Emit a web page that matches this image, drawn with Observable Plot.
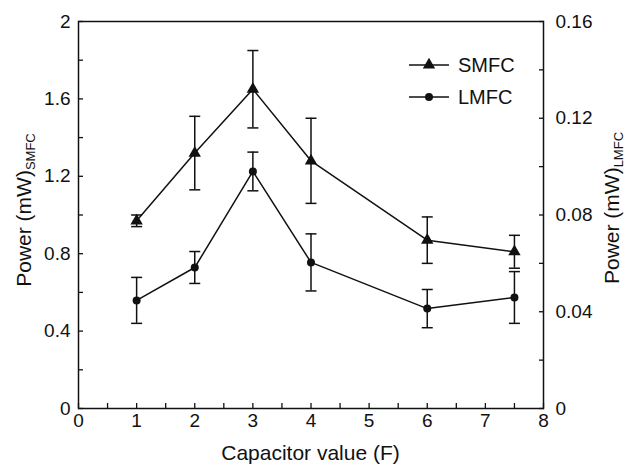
<!DOCTYPE html>
<html><head><meta charset="utf-8">
<script src="https://cdn.jsdelivr.net/npm/d3@7"></script>
<script src="https://cdn.jsdelivr.net/npm/@observablehq/plot@0.6"></script>
<style>body{margin:0;background:#fff} svg{display:block}</style>
</head><body><div id="chart"></div>
<script>
// Data
const capacitor = [1, 2, 3, 4, 6, 7.5];
const smfcPower = [0.97, 1.32, 1.65, 1.28, 0.87, 0.81];
const smfcErr   = [0.03, 0.19, 0.20, 0.22, 0.12, 0.085];
const lmfcPower = [0.0447, 0.0583, 0.098, 0.0604, 0.0413, 0.0459];
const lmfcErr   = [0.0095, 0.0066, 0.008, 0.0118, 0.0079, 0.0107];

const xMajorTicks = [0, 1, 2, 3, 4, 5, 6, 7, 8];
const xMinorTicks = [0, 0.5, 1, 1.5, 2, 2.5, 3, 3.5, 4, 4.5, 5, 5.5, 6, 6.5, 7, 7.5, 8];
const yLeftLabels = [0, 0.4, 0.8, 1.2, 1.6, 2];
const yLeftTicks = [0, 0.2, 0.4, 0.6, 0.8, 1, 1.2, 1.4, 1.6, 1.8, 2];
const yRightLabels = ["0", "0.04", "0.08", "0.12", "0.16"];
const yRightLabelValues = [0, 0.04, 0.08, 0.12, 0.16];
const yRightTicks = [0, 0.02, 0.04, 0.06, 0.08, 0.10, 0.12, 0.14, 0.16];
const seriesNames = ["SMFC", "LMFC"];

const rightMax = 0.16, leftMax = 2;
const k = rightMax / leftMax; // LMFC units per left-axis unit

const smfcRows = capacitor.map((c, i) => ({x: c, y: smfcPower[i], e: smfcErr[i]}));
const lmfcRows = capacitor.map((c, i) => ({x: c, y: lmfcPower[i] / k, e: lmfcErr[i] / k}));

const capSymbol = {draw(ctx, size) { const w = Math.sqrt(size / Math.PI); ctx.moveTo(-w, 0); ctx.lineTo(w, 0); }};
const ink = "#111";

function errorMarks(rows) {
  return [
    Plot.ruleX(rows, {x: "x", y1: d => d.y - d.e, y2: d => d.y + d.e, stroke: ink, strokeWidth: 1.5}),
    Plot.dot(rows, {x: "x", y: d => d.y + d.e, symbol: capSymbol, r: 5.5, stroke: ink, fill: "none", strokeWidth: 1.5}),
    Plot.dot(rows, {x: "x", y: d => d.y - d.e, symbol: capSymbol, r: 5.5, stroke: ink, fill: "none", strokeWidth: 1.5})
  ];
}

const font = "'Liberation Sans', Arial, sans-serif";

const chart = Plot.plot({
  width: 625, height: 466,
  marginLeft: 78, marginRight: 82, marginTop: 21, marginBottom: 58,
  style: {fontFamily: font, background: "#fff", color: ink},
  x: {domain: [0, 8], axis: null},
  y: {domain: [0, 2], axis: null},
  marks: [
    Plot.axisX({ticks: xMinorTicks, tickSize: -5, tickFormat: () => "", strokeWidth: 1.3, label: null}),
    Plot.axisX({ticks: xMajorTicks, tickSize: 0, tickPadding: 5, fontSize: 19, label: null}),
    Plot.axisY({ticks: yLeftTicks, tickSize: -5, tickFormat: () => "", strokeWidth: 1.3, label: null}),
    Plot.axisY({ticks: yLeftLabels, tickSize: 0, tickPadding: 8, fontSize: 19, label: null, tickFormat: d => String(d)}),
    Plot.axisY({anchor: "right", ticks: yRightTicks.map(v => v / k), tickSize: -5, tickFormat: () => "", strokeWidth: 1.3, label: null}),
    Plot.axisY({anchor: "right", ticks: yRightLabelValues.map(v => v / k), tickSize: 0, tickPadding: 12, fontSize: 19, label: null,
      tickFormat: d => yRightLabels[yRightLabelValues.findIndex(v => Math.abs(v / k - d) < 1e-9)]}),
    Plot.frame({stroke: ink, strokeWidth: 1.5}),
    ...errorMarks(smfcRows),
    ...errorMarks(lmfcRows),
    Plot.line(smfcRows, {x: "x", y: "y", stroke: ink, strokeWidth: 1.5}),
    Plot.line(lmfcRows, {x: "x", y: "y", stroke: ink, strokeWidth: 1.5}),
    Plot.dot(smfcRows, {x: "x", y: "y", symbol: "triangle", r: 4.6, fill: ink, stroke: "none"}),
    Plot.dot(lmfcRows, {x: "x", y: "y", symbol: "circle", r: 4, fill: ink, stroke: "none"})
  ]
});

document.getElementById("chart").appendChild(chart);
const svg = d3.select(chart);

// Axis titles with subscripts
function yTitle(x, y, main, sub) {
  const t = svg.append("text")
    .attr("transform", `translate(${x},${y}) rotate(-90)`)
    .attr("text-anchor", "middle")
    .attr("font-family", font).attr("font-size", 21).attr("fill", ink);
  t.append("tspan").text(main);
  t.append("tspan").attr("font-size", 13).attr("dy", 4).text(sub);
}
yTitle(31, 210, "Power (mW)", "SMFC");
yTitle(619, 208, "Power (mW)", "LMFC");

svg.append("text").attr("x", 310.5).attr("y", 460).attr("text-anchor", "middle")
  .attr("font-family", font).attr("font-size", 21).attr("fill", ink).text("Capacitor value (F)");

// Legend
const legendSymbols = [d3.symbolTriangle, d3.symbolCircle];
const legendSizes = [Math.PI * 4.6 * 4.6, Math.PI * 16];
const lg = svg.append("g");
seriesNames.forEach((name, i) => {
  const y = 65 + i * 32;
  lg.append("line").attr("x1", 409).attr("x2", 449).attr("y1", y).attr("y2", y).attr("stroke", ink).attr("stroke-width", 1.5);
  lg.append("path").attr("d", d3.symbol(legendSymbols[i], legendSizes[i])()).attr("transform", `translate(429,${y})`).attr("fill", ink);
  lg.append("text").attr("x", 458).attr("y", y).attr("dy", "0.35em").attr("text-anchor", "start")
    .attr("font-family", font).attr("font-size", 20).attr("fill", ink).text(name);
});
</script>
</body></html>
